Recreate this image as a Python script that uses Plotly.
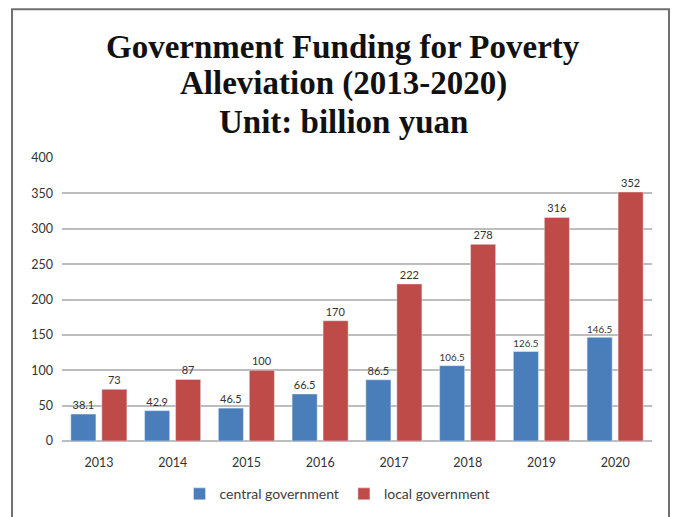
import plotly.graph_objects as go

# Poverty alleviation funding, billion yuan
years = ["2013", "2014", "2015", "2016", "2017", "2018", "2019", "2020"]
central_gov = [38.1, 42.9, 46.5, 66.5, 86.5, 106.5, 126.5, 146.5]
local_gov = [73, 87, 100, 170, 222, 278, 316, 352]
y_ticks = [0, 50, 100, 150, 200, 250, 300, 350, 400]
title_lines = [
    "Government Funding for Poverty",
    "Alleviation (2013-2020)",
    "Unit: billion yuan",
]

BLUE = "#4a7ebb"
RED = "#be4b48"
SANS = "Lato, 'Open Sans', sans-serif"
SERIF = "'Liberation Serif', 'Times New Roman', serif"

fig = go.Figure()
fig.add_trace(go.Bar(
    x=years, y=central_gov, name="central government",
    marker=dict(color=BLUE),
    text=[f"{v:g}" for v in central_gov], textposition="outside",
    textfont=dict(family=SANS, size=11, color="#333333"),
    cliponaxis=False,
))
fig.add_trace(go.Bar(
    x=years, y=local_gov, name="local government",
    marker=dict(color=RED),
    text=[f"{v:g}" for v in local_gov], textposition="outside",
    textfont=dict(family=SANS, size=11, color="#333333"),
    cliponaxis=False,
))

# Title drawn as three separately placed lines
title_y = [1.3926, 1.2623, 1.1285]
for line, ty in zip(title_lines, title_y):
    fig.add_annotation(
        text=f"<b>{line}</b>", xref="paper", yref="paper",
        x=0.4763, y=ty, xanchor="center", yanchor="middle",
        showarrow=False, font=dict(family=SERIF, size=33, color="#111111"),
    )

# Outer frame of the chart
fig.add_shape(
    type="rect", xref="paper", yref="paper",
    x0=-0.0847, x1=1.0288, y0=-0.40, y1=1.526,
    line=dict(color="#707070", width=2), fillcolor="rgba(0,0,0,0)",
    layer="below",
)

fig.update_layout(
    width=675, height=517,
    margin=dict(l=62, r=23, t=157.5, b=75.5, autoexpand=False),
    paper_bgcolor="white", plot_bgcolor="white",
    barmode="group", bargap=0.16, bargroupgap=0.19,
    showlegend=True,
    legend=dict(
        orientation="h", xref="container", yref="container",
        x=0.50, y=0.044, xanchor="center", yanchor="middle",
        font=dict(family=SANS, size=14, color="#404040"),
        itemwidth=30, tracegroupgap=0,
    ),
    xaxis=dict(
        showgrid=False, showline=False, zeroline=False,
        tickfont=dict(family=SANS, size=12.5, color="#333333"),
        ticks="", ticklabelstandoff=12,
    ),
    yaxis=dict(
        range=[0, 400], tickvals=y_ticks,
        showgrid=True, gridcolor="#bdbdbd", gridwidth=1.5,
        zeroline=True, zerolinecolor="#bdbdbd", zerolinewidth=1.5,
        showline=False, ticks="",
        tickfont=dict(family=SANS, size=12.5, color="#333333"),
        ticklabelstandoff=8,
    ),
)

fig.write_html("out.html")
